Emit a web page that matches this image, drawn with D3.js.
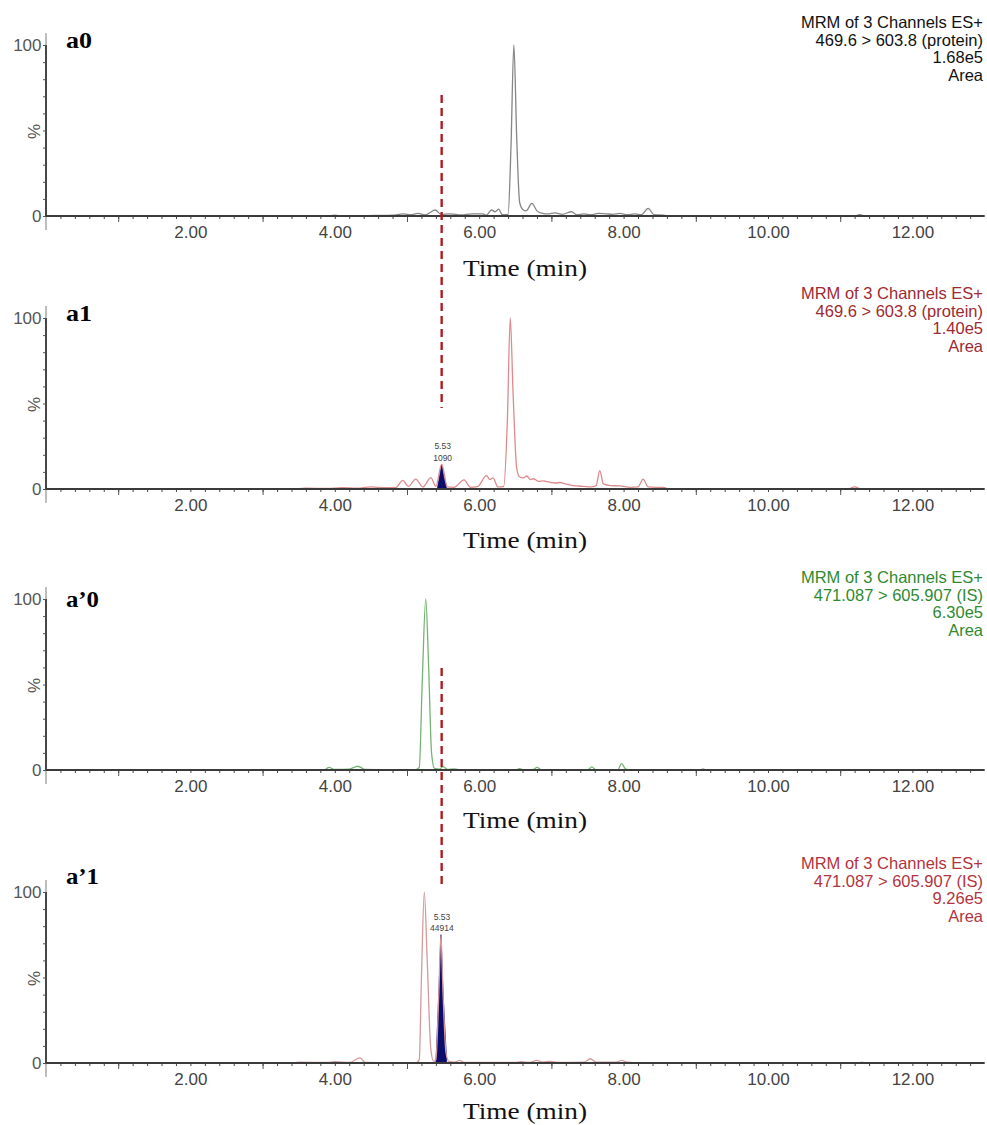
<!DOCTYPE html>
<html>
<head>
<meta charset="utf-8">
<script src="https://cdn.jsdelivr.net/npm/d3@7"></script>
<style>
  body { margin: 0; background: #fff; }
  svg { display: block; }
</style>
</head>
<body>
<svg id="chart" width="987" height="1125"></svg>
<script>
// values, traces are [time (min), % of max]
const timeTicks = [2, 4, 6, 8, 10, 12];
const panelLabels = ["a0", "a1", "a\u20190", "a\u20191"];

const legendA0 = ["MRM of 3 Channels ES+", "469.6 > 603.8 (protein)", "1.68e5", "Area"];
const legendA1 = ["MRM of 3 Channels ES+", "469.6 > 603.8 (protein)", "1.40e5", "Area"];
const legendB0 = ["MRM of 3 Channels ES+", "471.087 > 605.907 (IS)", "6.30e5", "Area"];
const legendB1 = ["MRM of 3 Channels ES+", "471.087 > 605.907 (IS)", "9.26e5", "Area"];

const traceA0 = [[0,0],[3.9,0],[4.0,0.5],[4.1,0],[4.6,0.3],[4.8,0.5],[4.95,1.2],[5.05,0.8],[5.15,1.5],
  [5.25,0.7],[5.39,3.5],[5.47,1.0],[5.6,1.2],[5.75,0.6],[5.9,1.3],[6.05,1.2],[6.1,0.5],[6.17,3.5],
  [6.22,2.5],[6.27,4.0],[6.32,0.8],[6.40,1.0],[6.44,40],[6.48,100],[6.52,45],[6.56,8],[6.6,4],
  [6.65,3],[6.73,7.4],[6.8,3],[6.88,1.5],[6.95,1.2],[7.05,1.8],[7.15,1.0],[7.28,2.5],[7.35,0.8],
  [7.45,1.2],[7.55,0.8],[7.65,1.5],[7.75,1.3],[7.85,1.0],[7.95,1.5],[8.05,0.8],[8.15,1.2],[8.25,0.8],
  [8.34,4.5],[8.42,0.8],[8.55,0.5],[8.65,0],[11.2,0],[11.27,0.8],[11.35,0],[13,0]];

const traceA1 = [[0,0],[3.4,0],[3.6,0.5],[3.9,0.3],[4.1,0.8],[4.3,0.5],[4.5,1.2],[4.7,0.8],[4.85,1.0],
  [4.94,5],[5.02,1.5],[5.12,5.8],[5.22,1.2],[5.33,6.6],[5.4,1.5],[5.48,14.4],[5.56,1.2],[5.65,1.0],
  [5.79,5.3],[5.88,1.0],[5.98,1.5],[6.10,7.8],[6.15,5.5],[6.19,6.5],[6.26,1.2],[6.34,1.5],[6.39,40],
  [6.43,100],[6.47,55],[6.52,12],[6.56,7],[6.61,6.5],[6.66,7.6],[6.71,5.5],[6.75,6],[6.82,4.5],[6.89,4.7],
  [6.97,4],[7.05,3.5],[7.12,3.8],[7.19,3],[7.3,2],[7.45,1.5],[7.55,1.2],[7.62,2],[7.67,10.7],[7.72,3],
  [7.82,2],[7.95,1.8],[8.1,1],[8.2,1.2],[8.27,5.8],[8.34,1.2],[8.45,1],[8.55,1],[8.62,0],[11.1,0],
  [11.2,1.2],[11.3,0],[13,0]];
const peakA1 = [[5.42,0],[5.45,7],[5.48,14.4],[5.51,7],[5.55,0]];
const peakLabelA1 = ["5.53", "1090"];

const traceB0 = [[0,0],[3.85,0],[3.92,1.5],[4.0,0.3],[4.2,0.5],[4.32,2.2],[4.42,0.3],[5.1,0],[5.17,1.5],
  [5.21,50],[5.26,100],[5.30,60],[5.34,10],[5.38,1],[5.45,0.5],[5.5,2.0],[5.56,0.3],[5.65,0.6],[5.75,0],
  [6.5,0],[6.56,0.8],[6.62,0],[6.75,0.3],[6.80,1.5],[6.86,0.2],[7.0,0],[7.50,0],[7.56,1.8],[7.62,0],
  [7.92,0],[7.97,3.7],[8.03,0.5],[8.1,0],[9.05,0],[9.1,0.6],[9.15,0],[13,0]];

const traceB1 = [[0,0],[3.4,0],[3.5,0.5],[3.9,0.3],[4.0,0.8],[4.2,0.3],[4.35,3],[4.42,0.3],[5.12,0],
  [5.17,2],[5.20,50],[5.24,100],[5.28,60],[5.33,8],[5.37,1],[5.40,2],[5.44,40],[5.47,75],[5.50,40],
  [5.54,6],[5.58,1],[5.66,0.5],[5.73,1.5],[5.8,0.3],[6.5,0.3],[6.58,0.8],[6.7,0.3],[6.80,1.5],[6.88,0.5],
  [6.98,1.0],[7.1,0.3],[7.45,0.5],[7.54,2.5],[7.62,0.5],[7.9,0.5],[7.97,1.5],[8.05,0.5],[8.32,0],
  [11.25,0],[11.3,0.5],[11.35,0],[13,0]];
const peakB1 = [[5.40,0],[5.44,40],[5.47,75],[5.50,40],[5.55,0]];
const peakLabelB1 = ["5.53", "44914"];

// retention time marked by the dashed line, and where each dashed run starts/stops [panel, %]
const markerTime = 5.48;
const markerRuns = [[[0, 70.8], [1, 47.4]], [[2, 59.6], [3, 102.3]]];

const panels = [
  { label: panelLabels[0], legend: legendA0, legendColor: "#111", trace: traceA0, color: "#868686",
    zero: 216, labelY: 48, legendY: 28, titleY: 276 },
  { label: panelLabels[1], legend: legendA1, legendColor: "#9e2a33", trace: traceA1, color: "#dc8a8c",
    peak: peakA1, peakLabel: peakLabelA1, zero: 489, labelY: 321, legendY: 299, titleY: 548 },
  { label: panelLabels[2], legend: legendB0, legendColor: "#2f8a2f", trace: traceB0, color: "#74b574",
    zero: 770, labelY: 607, legendY: 583, titleY: 828 },
  { label: panelLabels[3], legend: legendB1, legendColor: "#b2343e", trace: traceB1, color: "#d59a9c",
    peak: peakB1, peakLabel: peakLabelB1, zero: 1063, labelY: 884, legendY: 869, titleY: 1119 }
];

const svg = d3.select("#chart");
const x = d3.scaleLinear().domain([0, 13]).range([46, 984.6]);
const plotH = 171;
const sans = "'Liberation Sans', Arial, sans-serif";
const serif = "'Liberation Serif', 'Times New Roman', serif";

panels.forEach(p => {
  const y = d3.scaleLinear().domain([0, 100]).range([p.zero, p.zero - plotH]);
  p.y = y;
  const g = svg.append("g");

  // y axis line, a bit lighter past the 0 and 100 marks
  g.append("line").attr("x1", x(0)).attr("x2", x(0))
    .attr("y1", y(107)).attr("y2", p.zero + 14)
    .attr("stroke", "#9a9a9a").attr("stroke-width", 1.3);
  g.append("line").attr("x1", x(0)).attr("x2", x(0))
    .attr("y1", y(100)).attr("y2", p.zero)
    .attr("stroke", "#3a3a3a").attr("stroke-width", 1.8);

  const yAxis = d3.axisLeft(y).tickValues(d3.range(0, 101, 10)).tickSize(3).tickSizeOuter(0)
    .tickFormat(d => (d === 0 || d === 100) ? d : "");
  const ya = g.append("g").attr("transform", `translate(${x(0)},0)`).call(yAxis);
  ya.select(".domain").remove();
  ya.selectAll(".tick line").attr("stroke", "#555");
  ya.selectAll(".tick text").attr("font-family", sans).attr("font-size", 17)
    .attr("fill", "#555").attr("x", -4.5).attr("dy", "0.34em");

  g.append("text").attr("transform", `translate(40,${y(50) + 1}) rotate(-90)`)
    .attr("text-anchor", "middle").attr("font-family", sans).attr("font-size", 17)
    .attr("fill", "#555").text("%");

  // x axis: minor ticks every 0.2, longer ticks each odd minute, labels every 2
  const minor = d3.axisBottom(x).tickValues(d3.range(0.2, 12.95, 0.2)).tickSize(3).tickSizeOuter(0).tickFormat("");
  const mg = g.append("g").attr("transform", `translate(0,${p.zero})`).call(minor);
  mg.select(".domain").remove();
  mg.selectAll(".tick line").attr("stroke", "#444");
  const major = d3.axisBottom(x).tickValues(d3.range(1, 13, 2)).tickSize(6).tickSizeOuter(0).tickFormat("");
  const jg = g.append("g").attr("transform", `translate(0,${p.zero})`).call(major);
  jg.select(".domain").remove();
  jg.selectAll(".tick line").attr("stroke", "#555");
  const labels = d3.axisBottom(x).tickValues(timeTicks).tickSize(0).tickSizeOuter(0)
    .tickPadding(10).tickFormat(d3.format(".2f"));
  const lg = g.append("g").attr("transform", `translate(0,${p.zero})`).call(labels);
  lg.select(".domain").remove();
  lg.selectAll(".tick text").attr("font-family", sans).attr("font-size", 17).attr("fill", "#444");

  // filled integration peak
  if (p.peak) {
    g.append("path").datum(p.peak)
      .attr("d", d3.area().x(d => x(d[0])).y0(p.zero).y1(d => y(d[1])))
      .attr("fill", "#0c0c6c").attr("stroke", "#0c0c6c").attr("stroke-width", 0.8);
    const apex = p.peak.reduce((a, b) => b[1] > a[1] ? b : a);
    g.selectAll("text.peak").data(p.peakLabel).enter().append("text")
      .attr("x", x(apex[0]) + 1).attr("y", (d, i) => y(apex[1]) - 15 + i * 11.5)
      .attr("text-anchor", "middle").attr("font-family", sans).attr("font-size", 8.5)
      .attr("fill", "#444").text(d => d);
  }

  g.append("path").datum(p.trace)
    .attr("d", d3.line().x(d => x(d[0])).y(d => y(d[1])).curve(d3.curveMonotoneX))
    .attr("fill", "none").attr("stroke", p.color).attr("stroke-width", 1.3);

  g.append("line").attr("x1", x(0)).attr("x2", x(13)).attr("y1", p.zero).attr("y2", p.zero)
    .attr("stroke", "#3a3a3a").attr("stroke-width", 1.8);

  // panel tag, legend block and axis title
  g.append("text").attr("x", 66).attr("y", p.labelY)
    .attr("font-family", serif).attr("font-weight", "bold").attr("font-size", 23)
    .attr("textLength", p.label.length > 2 ? 33 : 26).attr("lengthAdjust", "spacingAndGlyphs")
    .text(p.label);

  g.selectAll("text.legend").data(p.legend).enter().append("text")
    .attr("x", 983).attr("y", (d, i) => p.legendY + i * 17.6)
    .attr("text-anchor", "end").attr("font-family", sans).attr("font-size", 16.5)
    .attr("fill", p.legendColor).text(d => d);

  g.append("text").attr("x", 525).attr("y", p.titleY)
    .attr("text-anchor", "middle").attr("font-family", serif).attr("font-size", 24)
    .attr("textLength", 124).attr("lengthAdjust", "spacingAndGlyphs")
    .attr("fill", "#111").text("Time (min)");
});

// dashed retention-time marker
svg.selectAll("line.marker").data(markerRuns).enter().append("line")
  .attr("x1", x(markerTime)).attr("x2", x(markerTime))
  .attr("y1", d => panels[d[0][0]].y(d[0][1]))
  .attr("y2", d => panels[d[1][0]].y(d[1][1]))
  .attr("stroke", "#b01c24").attr("stroke-width", 2.4).attr("stroke-dasharray", "8,5");
</script>
</body>
</html>
